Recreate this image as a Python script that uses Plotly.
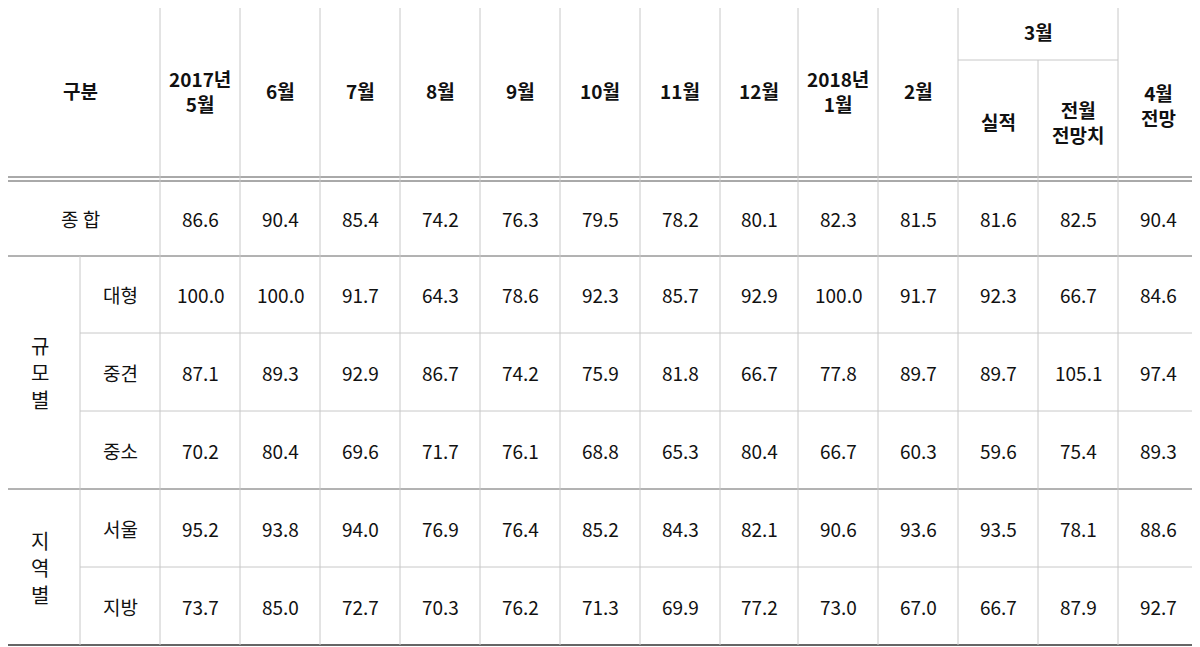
import plotly.graph_objects as go

months = ["2017년<br>5월", "6월", "7월", "8월", "9월", "10월", "11월", "12월", "2018년<br>1월", "2월"]
march_label = "3월"
march_sub = ["실적", "전월<br>전망치"]
april_label = "4월<br>전망"

total_label = "종 합"
total = [86.6, 90.4, 85.4, 74.2, 76.3, 79.5, 78.2, 80.1, 82.3, 81.5, 81.6, 82.5, 90.4]

groups = ["규모별", "지역별"]
sub_labels = [["대형", "중견", "중소"], ["서울", "지방"]]
sub_values = [
    [[100.0, 100.0, 91.7, 64.3, 78.6, 92.3, 85.7, 92.9, 100.0, 91.7, 92.3, 66.7, 84.6],
     [87.1, 89.3, 92.9, 86.7, 74.2, 75.9, 81.8, 66.7, 77.8, 89.7, 89.7, 105.1, 97.4],
     [70.2, 80.4, 69.6, 71.7, 76.1, 68.8, 65.3, 80.4, 66.7, 60.3, 59.6, 75.4, 89.3]],
    [[95.2, 93.8, 94.0, 76.9, 76.4, 85.2, 84.3, 82.1, 90.6, 93.6, 93.5, 78.1, 88.6],
     [73.7, 85.0, 72.7, 70.3, 76.2, 71.3, 69.9, 77.2, 73.0, 67.0, 66.7, 87.9, 92.7]],
]

# layout geometry (picture pixels)
xb = [0, 80, 160, 240, 320, 400, 480, 560, 640, 720, 798, 878, 958, 1038, 1118, 1198]
hdr_top, hdr_mid, hdr_bot = 2, 60, 179
row_top = [181, 256, 333, 411, 489, 567, 645]

FONT = "Noto Sans CJK KR"
anns, shapes = [], []

def txt(x, y, t, bold=False, size=19):
    anns.append(dict(x=x, y=y, text=f"<b>{t}</b>" if bold else t, showarrow=False,
                     xref="x", yref="y", font=dict(family=FONT, size=size, color="#111")))

def line(x0, y0, x1, y1, color="#c8c8c8", w=1):
    shapes.append(dict(type="line", x0=x0, y0=y0, x1=x1, y1=y1, xref="x", yref="y",
                       line=dict(color=color, width=w)))

cx = [(xb[i] + xb[i + 1]) / 2 for i in range(len(xb) - 1)]
hy = (hdr_top + hdr_bot) / 2
txt(80, hy, "구분", True)
for i, m in enumerate(months):
    txt(cx[i + 2], hy, m, True)
txt((xb[12] + xb[14]) / 2, (hdr_top + hdr_mid) / 2, march_label, True)
for j, s in enumerate(march_sub):
    txt(cx[12 + j], (hdr_mid + hdr_bot) / 2 + 2, s, True)
txt(cx[14], hy + 14, april_label, True)

ty = (row_top[0] + row_top[1]) / 2
txt(80, ty, total_label)
for i, v in enumerate(total):
    txt(cx[i + 2], ty, f"{v:.1f}")

r = 1
for g, lab in enumerate(groups):
    n = len(sub_labels[g])
    gy = (row_top[r] + row_top[r + n]) / 2
    for c, ch in enumerate(lab):
        txt(40, gy + (c - 1) * 27, ch, size=20)
    for k in range(n):
        y = (row_top[r + k] + row_top[r + k + 1]) / 2
        txt(cx[1], y, sub_labels[g][k])
        for i, v in enumerate(sub_values[g][k]):
            txt(cx[i + 2], y, f"{v:.1f}")
        if k > 0:
            line(80, row_top[r + k], 1198, row_top[r + k])
    r += n

line(0, hdr_top, 1198, hdr_top, "#333", 1.5)
line(0, 177, 1198, 177, "#555", 1)
line(0, 181, 1198, 181, "#555", 1)
line(0, row_top[1], 1198, row_top[1], "#666", 1)
line(0, row_top[4], 1198, row_top[4], "#666", 1)
line(0, row_top[6], 1198, row_top[6], "#333", 1.5)
line(958, hdr_mid, 1118, hdr_mid)
for x in xb[2:]:
    if x == 1038:
        line(x, hdr_mid, x, row_top[6])
    else:
        line(x, hdr_top, x, row_top[6])
line(80, row_top[1], 80, row_top[6])

# page body has an 8px margin; shift axis ranges to compensate
fig = go.Figure()
fig.update_layout(
    width=1200, height=647, margin=dict(l=0, r=0, t=0, b=0),
    paper_bgcolor="white", plot_bgcolor="white",
    xaxis=dict(range=[8, 1208], visible=False, fixedrange=True),
    yaxis=dict(range=[655, 8], visible=False, fixedrange=True),
    annotations=anns, shapes=shapes, showlegend=False,
)
fig.write_html("out.html")
